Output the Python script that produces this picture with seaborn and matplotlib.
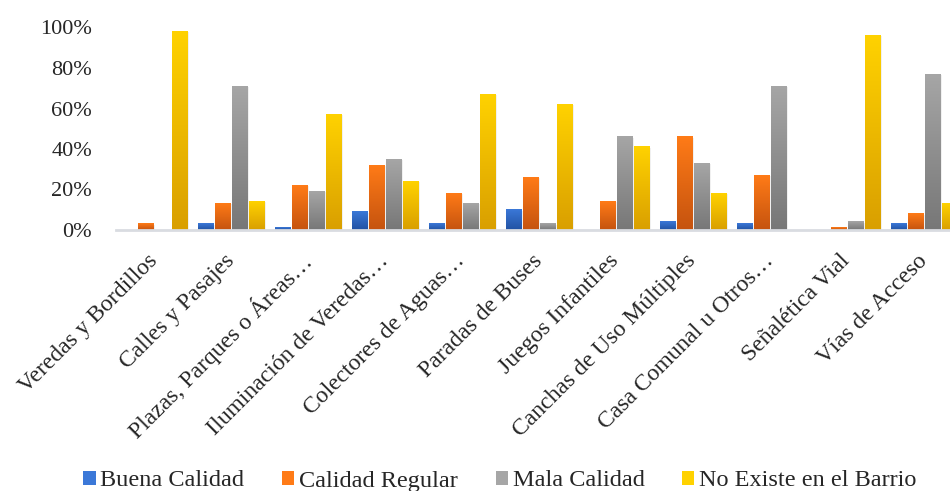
import numpy as np
import pandas as pd
import matplotlib.pyplot as plt
import seaborn as sns
from matplotlib.colors import LinearSegmentedColormap
from matplotlib.patches import Patch

categorias = ['Veredas y Bordillos', 'Calles y Pasajes', 'Plazas, Parques o Áreas…',
              'Iluminación de Veredas…', 'Colectores de Aguas…', 'Paradas de Buses',
              'Juegos Infantiles', 'Canchas de Uso Múltiples', 'Casa Comunal u Otros…',
              'Señalética Vial', 'Vías de Acceso']
series = ['Buena Calidad', 'Calidad Regular', 'Mala Calidad', 'No Existe en el Barrio']

buena = [0, 3, 1, 9, 3, 10, 0, 4, 3, 0, 3]
regular = [3, 13, 22, 32, 18, 26, 14, 46, 27, 1, 8]
mala = [0, 71, 19, 35, 13, 3, 46, 33, 71, 4, 77]
no_existe = [98, 14, 57, 24, 67, 62, 41, 18, 0, 96, 13]

# colores (arriba, abajo) del degradado
gradientes = [('#3b78d8', '#2152a3'),
              ('#ff7b17', '#c5530f'),
              ('#a6a6a6', '#777777'),
              ('#ffd200', '#d99f00')]

df = pd.DataFrame({'categoria': categorias * 4,
                   'serie': np.repeat(series, len(categorias)),
                   'valor': np.array(buena + regular + mala + no_existe) / 100})

sns.set_style('white')
plt.rcParams['font.family'] = ['Liberation Serif', 'DejaVu Serif']

fig = plt.figure(figsize=(9.5, 4.91), dpi=100)
ax = fig.add_axes([115.5 / 950, 1 - 230 / 491, 847 / 950, 202.5 / 491])

paleta = [g[0] for g in gradientes]
sns.barplot(data=df, x='categoria', y='valor', hue='serie', palette=paleta,
            width=0.88, gap=0.1, legend=False, ax=ax)

grad = np.linspace(0, 1, 256).reshape(-1, 1)
for cont, (c_top, c_bot) in zip(ax.containers, gradientes):
    cmap = LinearSegmentedColormap.from_list('g', [c_bot, c_top])
    for bar in cont:
        x0, w, h = bar.get_x(), bar.get_width(), bar.get_height()
        if h <= 0:
            continue
        ax.imshow(grad, cmap=cmap, extent=[x0, x0 + w, 0, h], origin='lower',
                  aspect='auto', zorder=3)
        # sombra suave
        ax.add_patch(plt.Rectangle((x0 + 0.012, -0.004), w + 0.01, h, color='#000000',
                                   alpha=0.06, lw=0, zorder=2))

ax.set_xlim(-0.5, len(categorias) - 0.5)
ax.set_ylim(0, 1)
ax.set_yticks(np.arange(0, 1.01, 0.2))
ax.set_yticklabels([f'{int(round(t * 100))}%' for t in np.arange(0, 1.01, 0.2)])
ax.set_xlabel('')
ax.set_ylabel('')
for s in ['top', 'right', 'left']:
    ax.spines[s].set_visible(False)
ax.spines['bottom'].set_color('#d9dce1')
ax.spines['bottom'].set_linewidth(2)
ax.spines['bottom'].set_zorder(4)
ax.tick_params(axis='y', length=0, pad=17, labelsize=16)
ax.tick_params(axis='x', length=0, pad=20, labelsize=17)
plt.setp(ax.get_xticklabels(), rotation=45, ha='right', va='center', rotation_mode='anchor')

handles = [Patch(facecolor=g[0], edgecolor='none') for g in gradientes]
fig.legend(handles, series, loc='center', bbox_to_anchor=(500 / 950, 1 - 481 / 491),
           ncol=4, frameon=False, fontsize=17.5, handlelength=0.5, handleheight=0.5,
           handletextpad=0.2, columnspacing=1.55)

fig.savefig('out.png', dpi=100)
